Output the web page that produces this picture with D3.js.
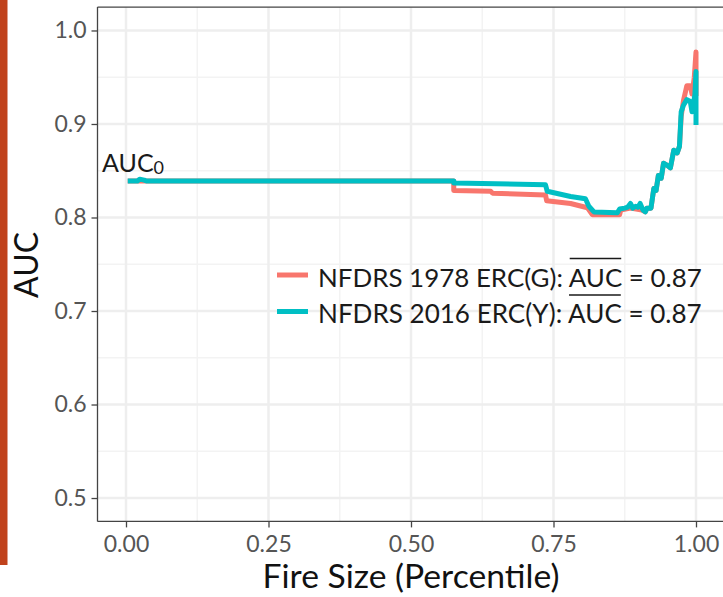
<!DOCTYPE html>
<html>
<head>
<meta charset="utf-8">
<script src="https://cdn.jsdelivr.net/npm/d3@7"></script>
<style>
  html, body { margin: 0; padding: 0; background: #ffffff; }
  svg { display: block; }
  text { font-family: Lato, "Open Sans", sans-serif; }
</style>
</head>
<body>
<svg id="chart" width="723" height="597"></svg>
<script>
// ---------- data ----------
const seriesNames = ["NFDRS 1978 ERC(G): ", "NFDRS 2016 ERC(Y): "];
const seriesMeanAUC = ["0.87", "0.87"];
const seriesColors = ["#F8766D", "#00BFC4"];

// NFDRS 1978 ERC(G)
const pct1978 = [0.003, 0.575, 0.575, 0.640, 0.643, 0.736, 0.738, 0.780, 0.806, 0.810, 0.818, 0.866, 0.868, 0.885, 0.905, 0.911, 0.914, 0.921, 0.926, 0.930, 0.934, 0.939, 0.943, 0.949, 0.955, 0.961, 0.967, 0.971, 0.974, 0.978, 0.984, 0.990, 0.993, 0.997, 1.000, 1.000];
const auc1978 = [0.839, 0.839, 0.829, 0.828, 0.826, 0.824, 0.818, 0.815, 0.811, 0.810, 0.803, 0.803, 0.808, 0.810, 0.808, 0.806, 0.810, 0.810, 0.831, 0.829, 0.845, 0.842, 0.858, 0.856, 0.853, 0.872, 0.869, 0.876, 0.908, 0.925, 0.941, 0.941, 0.932, 0.950, 0.977, 0.930];

// NFDRS 2016 ERC(Y)
const pct2016 = [0.003, 0.020, 0.024, 0.032, 0.036, 0.575, 0.575, 0.736, 0.739, 0.780, 0.806, 0.812, 0.821, 0.862, 0.866, 0.875, 0.880, 0.885, 0.889, 0.894, 0.898, 0.902, 0.907, 0.911, 0.914, 0.921, 0.926, 0.930, 0.934, 0.939, 0.943, 0.949, 0.955, 0.961, 0.967, 0.971, 0.974, 0.978, 0.984, 0.990, 0.993, 0.995, 0.998, 1.000, 1.000];
const auc2016 = [0.839, 0.839, 0.841, 0.840, 0.839, 0.839, 0.837, 0.835, 0.828, 0.8225, 0.820, 0.812, 0.806, 0.805, 0.809, 0.810, 0.811, 0.815, 0.810, 0.812, 0.811, 0.815, 0.808, 0.806, 0.810, 0.810, 0.831, 0.829, 0.845, 0.842, 0.858, 0.856, 0.853, 0.872, 0.869, 0.876, 0.913, 0.920, 0.926, 0.924, 0.913, 0.920, 0.931, 0.956, 0.899];

const xTicks = [0, 0.25, 0.5, 0.75, 1.0];
const xTickLabels = ["0.00", "0.25", "0.50", "0.75", "1.00"];
const xMinor = [0.125, 0.375, 0.625, 0.875];
const yTicks = [0.5, 0.6, 0.7, 0.8, 0.9, 1.0];
const yTickLabels = ["0.5", "0.6", "0.7", "0.8", "0.9", "1.0"];
const yMinor = [0.55, 0.65, 0.75, 0.85, 0.95];
const xTitle = "Fire Size (Percentile)";
const yTitle = "AUC";
const annotationMain = "AUC";
const annotationSub = "0";
const annotationX = 0.0;
const annotationY = 0.84;

// ---------- layout ----------
const svg = d3.select("#chart");
const W = 723, H = 597;
const x = d3.scaleLinear().domain([-0.05, 1.05]).range([97.5, 724.5]);
const y = d3.scaleLinear().domain([0.475, 1.025]).range([521.4, 7.1]);
const [pl, pr] = x.range();
const [pb, pt] = y.range();

svg.append("rect").attr("width", W).attr("height", H).attr("fill", "#ffffff");
// decorative slide strip on the left
svg.append("rect").attr("x", 0).attr("y", 0).attr("width", 7.5).attr("height", 565).attr("fill", "#c0421c");

// grid
const grid = svg.append("g");
grid.selectAll(".xmin").data(xMinor).enter().append("line")
  .attr("x1", d => x(d)).attr("x2", d => x(d)).attr("y1", pt).attr("y2", pb)
  .attr("stroke", "#f3f3f3").attr("stroke-width", 1.5);
grid.selectAll(".ymin").data(yMinor).enter().append("line")
  .attr("y1", d => y(d)).attr("y2", d => y(d)).attr("x1", pl).attr("x2", pr)
  .attr("stroke", "#f3f3f3").attr("stroke-width", 1.5);
grid.selectAll(".xmaj").data(xTicks).enter().append("line")
  .attr("x1", d => x(d)).attr("x2", d => x(d)).attr("y1", pt).attr("y2", pb)
  .attr("stroke", "#eeeeee").attr("stroke-width", 2.5);
grid.selectAll(".ymaj").data(yTicks).enter().append("line")
  .attr("y1", d => y(d)).attr("y2", d => y(d)).attr("x1", pl).attr("x2", pr)
  .attr("stroke", "#eeeeee").attr("stroke-width", 2.5);

// top border
svg.append("line").attr("x1", pl).attr("x2", pr).attr("y1", pt).attr("y2", pt)
  .attr("stroke", "#444").attr("stroke-width", 1.2);

// axes
const xAxis = d3.axisBottom(x).tickValues(xTicks).tickFormat((d, i) => xTickLabels[i]).tickSize(6).tickPadding(8);
const yAxis = d3.axisLeft(y).tickValues(yTicks).tickFormat((d, i) => yTickLabels[i]).tickSize(6).tickPadding(5);

const gx = svg.append("g").attr("transform", `translate(0,${pb})`).call(xAxis);
const gy = svg.append("g").attr("transform", `translate(${pl},0)`).call(yAxis);
[gx, gy].forEach(g => {
  g.select(".domain").attr("stroke", "#444").attr("stroke-width", 1.3);
  g.selectAll(".tick line").attr("stroke", "#444").attr("stroke-width", 1.3);
  g.selectAll(".tick text").attr("fill", "#555").style("font-size", "23px").style("font-family", "Lato, sans-serif");
});
gx.select(".domain").attr("d", `M${pl},0H${pr}`);
gy.select(".domain").attr("d", `M0,${pb}V${pt}`);

// lines
const line = d3.line().x(d => x(d[0])).y(d => y(d[1])).curve(d3.curveLinear);
const data1978 = pct1978.map((p, i) => [p, auc1978[i]]);
const data2016 = pct2016.map((p, i) => [p, auc2016[i]]);
[data1978, data2016].forEach((d, i) => {
  svg.append("path").datum(d).attr("d", line)
    .attr("fill", "none").attr("stroke", seriesColors[i])
    .attr("stroke-width", 5).attr("stroke-linejoin", "round").attr("stroke-linecap", "butt");
});

// annotation AUC0
const ann = svg.append("text").attr("x", x(annotationX) - 24).attr("y", y(annotationY) - 8)
  .attr("fill", "#1a1a1a").style("font-size", "25px");
ann.append("tspan").text(annotationMain);
ann.append("tspan").attr("dy", 2).style("font-size", "18px").text(annotationSub);

// titles
const fit = (sel, target) => {
  const w = sel.node().getComputedTextLength();
  const fs = parseFloat(sel.style("font-size"));
  sel.style("font-size", (fs * target / w) + "px");
};
const xt = svg.append("text").attr("x", (pl + pr) / 2).attr("y", 588)
  .attr("text-anchor", "middle").attr("fill", "#111").style("font-size", "28px").text(xTitle);
fit(xt, 297);
const yt = svg.append("text").attr("transform", `translate(38,265) rotate(-90)`)
  .attr("text-anchor", "middle").attr("fill", "#111").style("font-size", "30px").text(yTitle);
fit(yt, 66);

// legend
const legX = 277, legY0 = 275, legDY = 36.5;
const legendTarget = 384;
seriesNames.forEach((name, i) => {
  const cy = legY0 + i * legDY;
  const g = svg.append("g");
  g.append("line").attr("x1", legX).attr("x2", legX + 31).attr("y1", cy).attr("y2", cy)
    .attr("stroke", seriesColors[i]).attr("stroke-width", 5);
  const t = g.append("text").attr("x", legX + 41).attr("y", cy + 11.5)
    .attr("fill", "#1a1a1a").style("font-size", "24px");
  const t1 = t.append("tspan").text(name);
  const t2 = t.append("tspan").text("AUC");
  const t3 = t.append("tspan").text(" = " + seriesMeanAUC[i]);
  // fit whole label to width
  const w = t.node().getComputedTextLength();
  const fs = 24 * legendTarget / w;
  t.style("font-size", fs + "px");
  const w1 = t1.node().getComputedTextLength();
  const w2 = t2.node().getComputedTextLength();
  const x0 = legX + 41 + w1;
  g.append("line").attr("x1", x0 + 1).attr("x2", x0 + w2 - 1)
    .attr("y1", cy - 16.5).attr("y2", cy - 16.5)
    .attr("stroke", "#1a1a1a").attr("stroke-width", 1.4);
});
</script>
</body>
</html>
